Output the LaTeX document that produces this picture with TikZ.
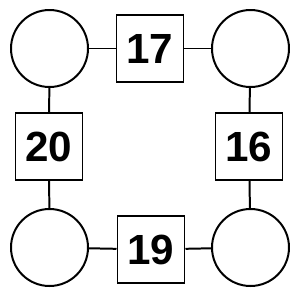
\documentclass[tikz,border=0pt]{standalone}
\usepackage{fontspec}
\setmainfont{Liberation Sans}
\usetikzlibrary{positioning}

\begin{document}
\begin{tikzpicture}[x=0.03cm, y=-0.03cm, line width=1.7pt,
        spot/.style={circle, draw, minimum size=2.31cm, inner sep=0pt},
        numbox/.style={rectangle, draw, minimum size=2.01cm, inner sep=0pt, font=\fontsize{36}{40}\selectfont\bfseries}]
        \useasboundingbox (0,0) rectangle (300,300);

        \node[spot] (tl) at (49.5,48.5) {};
        \node[spot] (tr) at (250.5,48.5) {};
        \node[spot] (bl) at (49.5,247.5) {};
        \node[spot] (br) at (250.5,247.5) {};

        \node[numbox] (top) at (150,48.5) {17};
        \node[numbox] (left) at (49,146.5) {20};
        \node[numbox] (right) at (249,146.5) {16};
        \node[numbox] (bottom) at (151,249.5) {19};

        \draw (tl) -- (top) -- (tr);
        \draw (tl) -- (left) -- (bl);
        \draw (tr) -- (right) -- (br);
        \draw (bl) -- (bottom) -- (br);
\end{tikzpicture}
\end{document}
